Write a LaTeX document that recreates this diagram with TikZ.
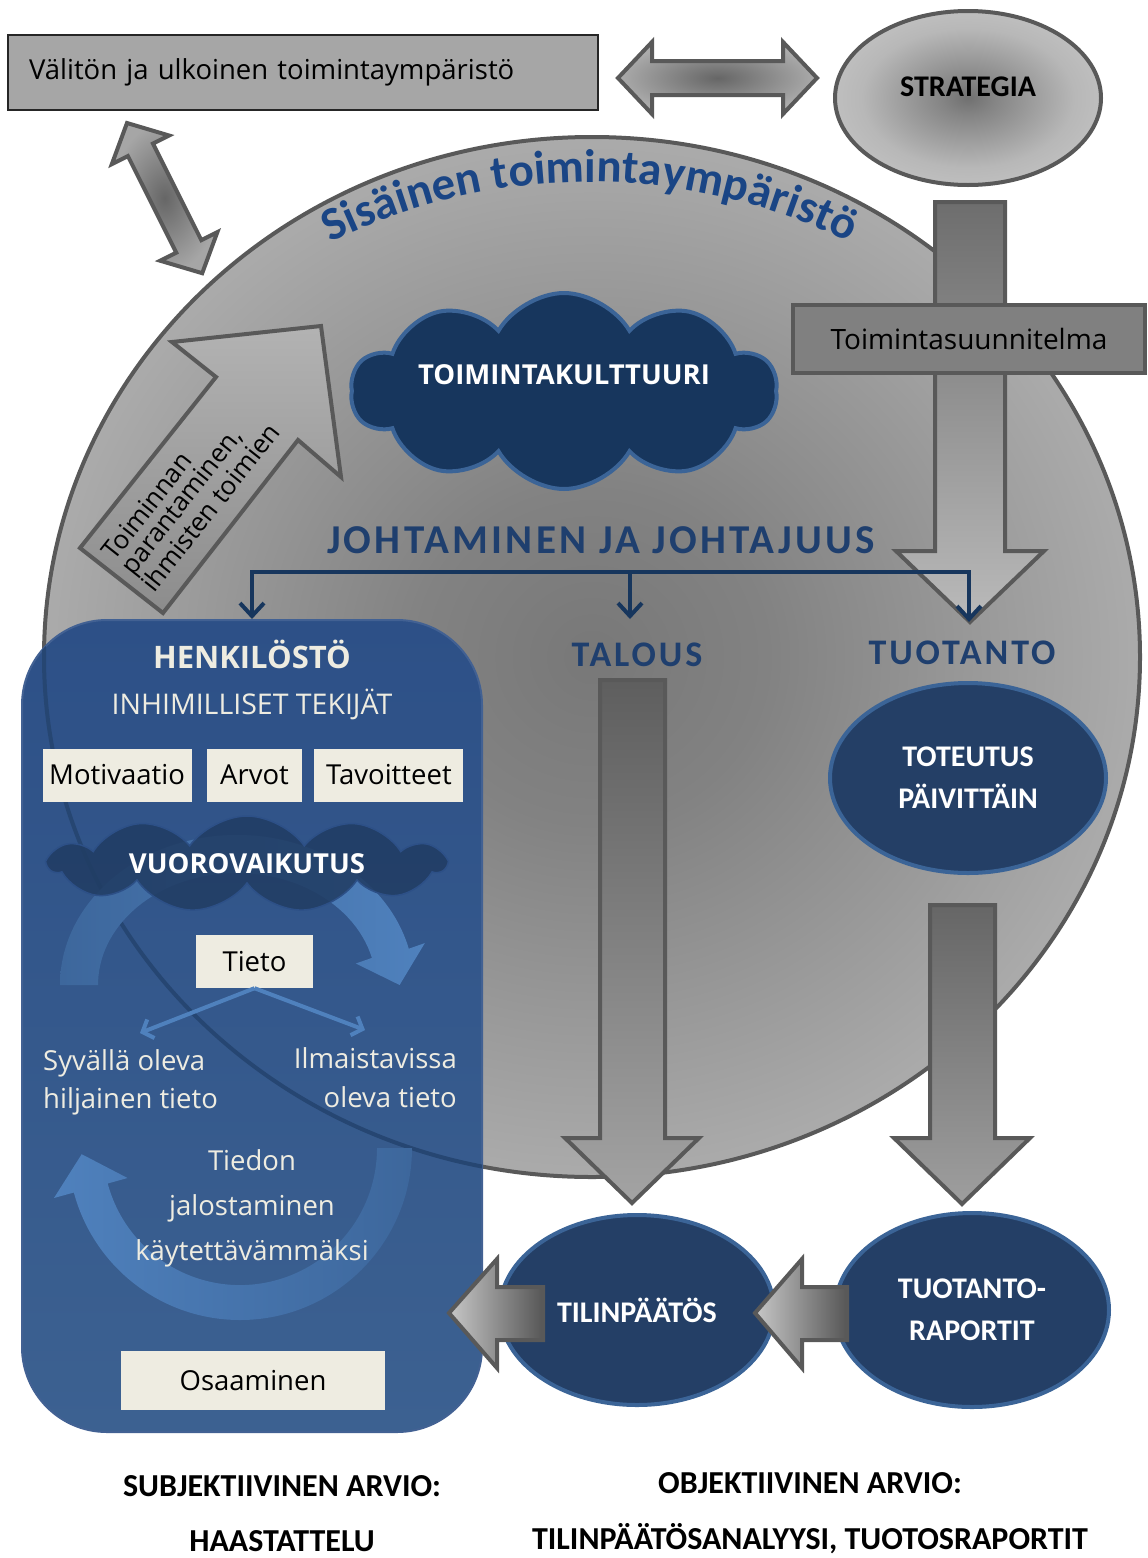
\documentclass[tikz,border=0pt]{standalone}
\usepackage{fontspec}
\setmainfont{Open Sans}
\newfontfamily\calfont{Carlito}
\newfontfamily\widefont[LetterSpace=8]{Carlito}
\usetikzlibrary{arrows.meta,shapes.geometric,shapes.symbols,decorations.text,positioning}

\newcommand{\fsz}[2]{\fontsize{#1}{#2}\selectfont}

\definecolor{navyfill}{HTML}{243F66}
\definecolor{cloudnavy}{HTML}{17365D}
\definecolor{edgeblue}{HTML}{3B6497}
\definecolor{headblue}{HTML}{1F3F6E}
\definecolor{sisblue}{HTML}{1A4585}
\definecolor{cream}{HTML}{EEECE1}
\definecolor{rimgray}{HTML}{595959}
\definecolor{ringblue}{HTML}{4F81BD}
\definecolor{ringdim}{HTML}{3D679C}
\definecolor{staffdark}{HTML}{2D5087}
\definecolor{stafflight}{HTML}{3C6191}
\definecolor{staffline}{HTML}{264672}
\definecolor{vuorofill}{HTML}{213D64}

\pgfdeclareradialshading{sisglow}{\pgfpointorigin}{color(0bp)=(black!53); color(8bp)=(black!49); color(25bp)=(black!33); color(35bp)=(black!23); color(50bp)=(black!21)}
\pgfdeclareradialshading{stratglow}{\pgfpointorigin}{color(0bp)=(black!56); color(5bp)=(black!48); color(20bp)=(black!28); color(35bp)=(black!20); color(50bp)=(black!20)}

\begin{document}
\begin{tikzpicture}[x=1pt,y=-1pt,line join=miter,
    >={Straight Barb[length=13pt,width=24pt]},
    rim/.style={draw=rimgray,line width=4pt},
    extbox/.style={draw=black!85,line width=1.5pt,fill=black!35,minimum width=590pt,minimum height=75pt,
      text width=548pt,inner xsep=21pt,align=left,font=\fsz{27.5}{32}},
    planbox/.style={rim,fill=black!50,minimum width=352pt,minimum height=68pt,inner sep=0pt,font=\fsz{28}{32}},
    oval/.style={ellipse,draw=edgeblue,line width=4pt,fill=navyfill,text=white,align=center,inner sep=0pt,
      minimum width=274pt,minimum height=190pt,font=\calfont\bfseries\fsz{30}{42}},
    puffs/.style={cloud,cloud ignores aspect,inner sep=0pt,text=white},
    headtext/.style={text=headblue,inner sep=0pt,font=\widefont\bfseries\fsz{36}{40}},
    creambox/.style={fill=cream,minimum height=53pt,inner sep=0pt,font=\fsz{27.5}{32}},
    creamtext/.style={text=cream,inner sep=0pt},
    navyline/.style={draw=cloudnavy,line width=4pt},
    ringline/.style={draw=ringblue,line width=4pt,-{Straight Barb[length=9pt,width=20pt]}},
    bottomtext/.style={inner sep=0pt,font=\calfont\bfseries\fsz{32}{36}}]
\useasboundingbox (0,0) rectangle (1148,1558);

% outer environment and strategy
\node[extbox] (ext) at (303,72.5) {Välitön ja ulkoinen toimintaympäristö};
\node[ellipse,rim,shade,shading=stratglow,minimum width=266pt,minimum height=174pt,inner sep=0pt,text depth=22pt,
  font=\calfont\bfseries\fsz{30}{34}] (strat) at (968,98) {STRATEGIA};
\path[rim,inner color=black!60,outer color=black!33] (618,78) -- (652,42) -- (652,61) -- (783,61) -- (783,42)
  -- (817,78) -- (783,114) -- (783,95) -- (652,95) -- (652,114) -- cycle;
\begin{scope}[shift={(127,123)},rotate=-63.4]
  \path[rim,inner color=black!60,outer color=black!35] (0,0) -- (30,32) -- (30,14) -- (138,14) -- (138,32)
    -- (168,0) -- (138,-32) -- (138,-14) -- (30,-14) -- (30,-32) -- cycle;
\end{scope}

% inner environment
\node[ellipse,rim,shade,shading=sisglow,minimum width=1096pt,minimum height=1040pt,inner sep=0pt] (sis) at (592,657) {};
\path[decorate,decoration={text along path,text align=center,text color=sisblue,
  text={|\calfont\bfseries\fsz{47}{50}|Sisäinen toimintaympäristö}}]
  (298.5,260.1) arc[start angle=240,end angle=300,radius=583];

\path[rim,top color=black!30,bottom color=black!45] (80,548) -- (216,377) -- (172,342) -- (321,326)
  -- (341,477) -- (298,440) -- (163,613) -- cycle;
\node[rotate=51.7,anchor=west,align=left,inner sep=0pt,font=\fsz{26}{24}] (improve) at (127,572)
  {Toiminnan\\parantaminen,\\ihmisten toimien};

\node[puffs,cloud puffs=10,cloud puff arc=120,draw=edgeblue,line width=4pt,fill=cloudnavy,text depth=32pt,
  minimum width=426pt,minimum height=196pt,font=\bfseries\fsz{27.5}{32}] (culture) at (564,391) {TOIMINTAKULTTUURI};

% plan arrow from strategy
\path[rim,top color=black!57,bottom color=black!27] (935,202) -- (1005,202) -- (1005,551) -- (1044,551)
  -- (970,622) -- (896,551) -- (935,551) -- cycle;
\node[planbox] (plan) at (969,339) {Toimintasuunnitelma};
\coordinate (plantip) at (969,622);

% leadership
\node[headtext,font=\widefont\bfseries\fsz{41}{44}] (lead) at (601,540) {JOHTAMINEN JA JOHTAJUUS};
\node[headtext] (talous) at (637,655) {TALOUS};
\node[headtext] (tuotanto) at (962,653) {TUOTANTO};

% staff
\node[rounded corners=85pt,minimum width=460pt,minimum height=812pt,top color=staffdark,bottom color=stafflight,
  draw=staffdark!90!white,line width=2pt] (staff) at (252,1026) {};
\begin{scope}
  \clip[rounded corners=85pt] (22,620) rectangle (482,1432);
  \draw[staffline,line width=4pt] (sis.center) ellipse [x radius=548,y radius=520];
\end{scope}

\coordinate (hub) at (630,572);
\draw[navyline,<->] (staff.north) |- (hub) -| (plantip);
\draw[navyline,->] (hub) -- (hub |- staff.north);

\node[creamtext,font=\bfseries\fsz{31}{34}] (henk) at (252,654) {HENKILÖSTÖ};
\node[creamtext,font=\fsz{28.5}{32}] (inhim) at (252,704) {INHIMILLISET TEKIJÄT};
\node[creambox,minimum width=95pt] (arvot) at (254.5,775) {Arvot};
\node[creambox,minimum width=149pt,left=15pt of arvot] (motiv) {Motivaatio};
\node[creambox,minimum width=149pt,right=12pt of arvot] (goals) {Tavoitteet};

% knowledge cycle
\path[left color=ringdim,right color=ringblue] (60,985) arc[start angle=180,end angle=346,x radius=177,y radius=150]
  -- (424.8,943.1) -- (399.6,985) -- (355.8,963.5) -- (371.9,957.9)
  arc[start angle=346,end angle=180,x radius=139,y radius=112] -- cycle;
\path[left color=ringblue,right color=ringdim] (412,1148) arc[start angle=0,end angle=165,radius=172]
  -- (54,1198) -- (81.7,1154.2) -- (127.5,1178) -- (107.7,1183.5)
  arc[start angle=165,end angle=0,radius=137] -- cycle;

\node[puffs,cloud puffs=11,cloud puff arc=110,fill=vuorofill,fill opacity=0.88,draw=staffdark,line width=1.5pt,
  text opacity=1,minimum width=396pt,minimum height=96pt,font=\bfseries\fsz{27.5}{32}] (vuoro) at (247,864) {VUOROVAIKUTUS};

\node[creambox,minimum width=117pt] (tieto) at (254.5,961.5) {Tieto};
\coordinate (tacit) at (140,1033);
\coordinate (explicit) at (365,1030);
\draw[ringline] (tieto.south) -- (tacit);
\draw[ringline] (tieto.south) -- (explicit);

\node[creamtext,align=left,anchor=west,font=\fsz{27.5}{38}] (tacittext) at (43,1082) {Syvällä oleva\\hiljainen tieto};
\node[creamtext,align=right,anchor=east,font=\fsz{27.5}{39}] (explicittext) at (457,1078) {Ilmaistavissa\\oleva tieto};
\node[creamtext,align=center,font=\fsz{27.5}{45}] (refine) at (252,1208) {Tiedon\\jalostaminen\\käytettävämmäksi};
\node[creambox,minimum width=264pt,minimum height=59pt] (skill) at (253,1380.5) {Osaaminen};

% economy and production
\path[rim,top color=black!63,bottom color=black!36] (600,680) -- (665,680) -- (665,1138) -- (699,1138)
  -- (632,1203) -- (565,1138) -- (600,1138) -- cycle;
\node[oval,minimum width=276pt] (daily) at (968,778) {TOTEUTUS\\PÄIVITTÄIN};
\path[rim,top color=black!60,bottom color=black!38] (930,905) -- (995,905) -- (995,1138) -- (1030,1138)
  -- (962,1204) -- (894,1138) -- (930,1138) -- cycle;

\node[oval] (fs) at (637,1310) {TILINPÄÄTÖS};
\node[oval,minimum height=194pt,right=57pt of fs] (rep) {TUOTANTO-\\RAPORTIT};
\path[rim,left color=black!22,right color=black!66] (755,1313) -- (802,1259) -- (802,1287) -- (847,1287)
  -- (847,1340) -- (802,1340) -- (802,1368) -- cycle;
\path[rim,left color=black!22,right color=black!66] (449,1313) -- (497,1259) -- (497,1287) -- (543,1287)
  -- (543,1340) -- (497,1340) -- (497,1368) -- cycle;

% assessment
\node[bottomtext] (subj) at (282,1486) {SUBJEKTIIVINEN ARVIO:};
\node[bottomtext] (interview) at (282,1541) {HAASTATTELU};
\node[bottomtext] (obj) at (810,1483) {OBJEKTIIVINEN ARVIO:};
\node[bottomtext] (analysis) at (810,1539) {TILINPÄÄTÖSANALYYSI, TUOTOSRAPORTIT};
\end{tikzpicture}
\end{document}
